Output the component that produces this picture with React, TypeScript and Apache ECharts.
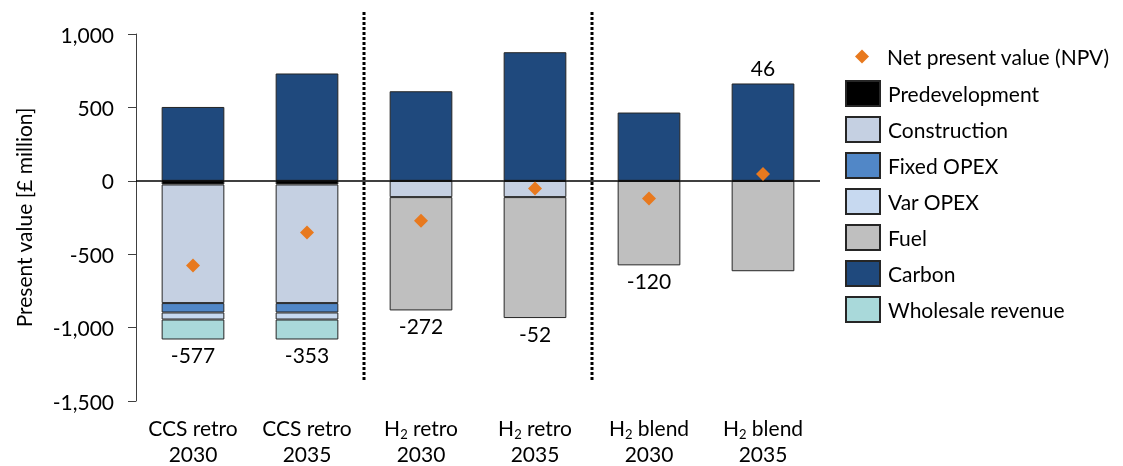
import { useEffect, useRef } from 'react';
import * as echarts from 'echarts';

const categories = ['CCS retro\n2030', 'CCS retro\n2035', 'H₂ retro\n2030', 'H₂ retro\n2035', 'H₂ blend\n2030', 'H₂ blend\n2035'];
const predevelopment = [-25, -25, 0, 0, 0, 0];
const construction = [-808, -808, -111, -111, 0, 0];
const fixedOpex = [-64, -64, 0, 0, 0, 0];
const varOpex = [-48, -48, 0, 0, 0, 0];
const fuel = [0, 0, -772, -824, -576, -616];
const carbon = [503, 731, 610, 876, 465, 663];
const wholesaleRevenue = [-136, -136, 0, 0, 0, 0];
const npv = [-577, -353, -272, -52, -120, 46];
const yMin = -1500;
const yMax = 1000;
const yInterval = 500;
const separatorAfter = [1, 3];

const NPV_NAME = 'Net present value (NPV)';
const FONT = 'Lato, "Open Sans", sans-serif';
const FS = 21;

const stackSeries = [
  { name: 'Predevelopment', data: predevelopment, color: '#000000' },
  { name: 'Construction', data: construction, color: '#C5D0E2' },
  { name: 'Fixed OPEX', data: fixedOpex, color: '#5187C7' },
  { name: 'Var OPEX', data: varOpex, color: '#C7D9F0' },
  { name: 'Fuel', data: fuel, color: '#BFBFBF' },
  { name: 'Carbon', data: carbon, color: '#1F497D' },
  { name: 'Wholesale revenue', data: wholesaleRevenue, color: '#A9D9DA' },
];

export default function App() {
  const ref = useRef<HTMLDivElement>(null);
  useEffect(() => {
    if (!ref.current) return;
    const chart = echarts.init(ref.current, undefined, { renderer: 'svg' });

    // which series carries the NPV label for each category
    const labelOwner = categories.map((_, i) => {
      let owner = -1;
      stackSeries.forEach((s, si) => {
        const v = s.data[i];
        if (npv[i] >= 0 ? v > 0 : v < 0) owner = si;
      });
      return owner;
    });

    const barSeries = stackSeries.map((s, si) => ({
      name: s.name,
      type: 'bar',
      stack: 'total',
      barWidth: '55%',
      itemStyle: { color: s.color, borderColor: '#262626', borderWidth: 1 },
      data: s.data.map((v, i) => ({
        value: v === 0 ? null : v,
        label:
          labelOwner[i] === si
            ? {
                show: true,
                position: npv[i] >= 0 ? 'top' : 'bottom',
                distance: 5,
                formatter: String(npv[i]),
                fontSize: FS,
                color: '#000',
                fontFamily: FONT,
              }
            : { show: false },
      })),
      ...(s.name === 'Carbon'
        ? {
            markLine: {
              silent: true,
              symbol: 'none',
              label: { show: false },
              lineStyle: { color: '#000', width: 1.5, type: 'solid' },
              data: [{ yAxis: 0 }],
            },
          }
        : {}),
    }));

    const option: any = {
      animation: false,
      textStyle: { fontFamily: FONT },
      grid: { left: 136, right: 303, top: 34, bottom: 64, containLabel: false },
      legend: [
        {
          data: [NPV_NAME],
          orient: 'vertical',
          left: 855,
          top: 44,
          padding: 0,
          itemWidth: 14,
          itemHeight: 14,
          textStyle: { fontSize: FS, lineHeight: 25, color: '#000', fontFamily: FONT, padding: [0, 0, 0, 13] },
        },
        {
          data: stackSeries.map((s) => ({ name: s.name, icon: 'rect' })),
          orient: 'vertical',
          left: 845,
          top: 80,
          padding: 0,
          itemWidth: 34,
          itemHeight: 25,
          itemGap: 9,
          textStyle: { fontSize: FS, lineHeight: 25, color: '#000', fontFamily: FONT, padding: [0, 0, 0, 3] },
        },
      ],
      xAxis: {
        type: 'category',
        data: categories,
        axisLine: { show: false, onZero: false },
        axisTick: { show: false },
        axisLabel: {
          interval: 0,
          margin: 13,
          fontSize: FS,
          color: '#000',
          lineHeight: 26,
          fontFamily: FONT,
          formatter: (v: string) => v.replace('H₂', 'H{sub|2}'),
          rich: {
            sub: { fontSize: 13, lineHeight: 26, verticalAlign: 'bottom', padding: [11, 0, 0, 0], color: '#000', fontFamily: FONT },
          },
        },
      },
      yAxis: {
        type: 'value',
        min: yMin,
        max: yMax,
        interval: yInterval,
        name: 'Present value [£ million]',
        nameLocation: 'middle',
        nameGap: 102,
        nameTextStyle: { fontSize: FS, color: '#000', fontFamily: FONT },
        axisLine: { show: true, lineStyle: { color: '#404040', width: 1 } },
        axisTick: { show: true, length: 8, lineStyle: { color: '#404040' } },
        splitLine: { show: false },
        axisLabel: {
          fontSize: FS,
          color: '#000',
          margin: 22,
          fontFamily: FONT,
          formatter: (v: number) => v.toLocaleString('en-US'),
        },
      },
      series: [
        ...barSeries,
        {
          name: NPV_NAME,
          type: 'scatter',
          symbol: 'diamond',
          symbolSize: 14,
          z: 10,
          itemStyle: { color: '#E8791E', opacity: 1 },
          data: npv,
        },
      ],
    };
    chart.setOption(option);

    const graphics = separatorAfter.map((i) => {
      const a = chart.convertToPixel({ xAxisIndex: 0 }, i) as number;
      const b = chart.convertToPixel({ xAxisIndex: 0 }, i + 1) as number;
      const x = Math.round((a + b) / 2);
      return {
        type: 'line',
        shape: { x1: x, y1: 12, x2: x, y2: 382 },
        style: { stroke: '#000', lineWidth: 3, lineDash: [3, 2] },
        silent: true,
      };
    });
    chart.setOption({ graphic: graphics });

    return () => chart.dispose();
  }, []);
  return <div ref={ref} style={{ position: 'fixed', left: 0, top: 0, width: 1123, height: 466 }} />;
}
